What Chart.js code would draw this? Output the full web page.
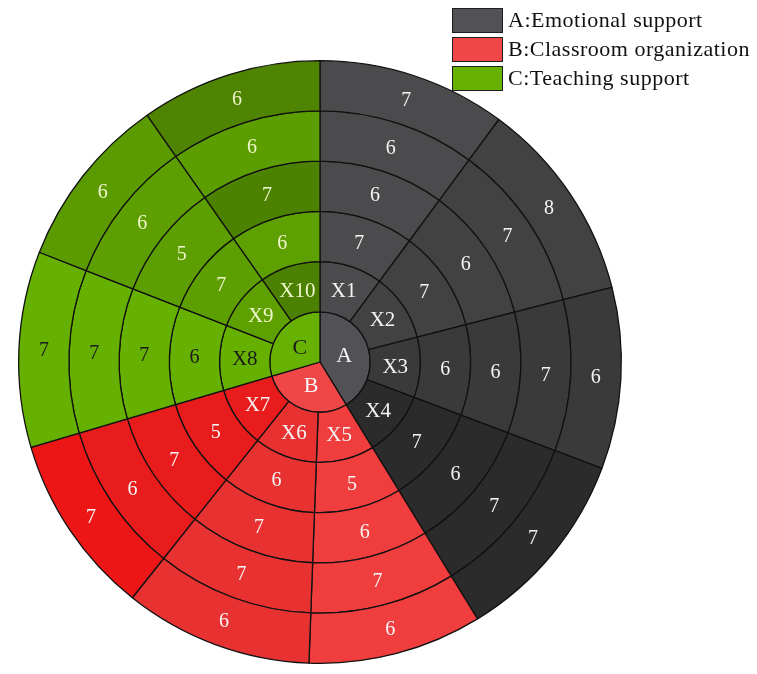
<!DOCTYPE html>
<html>
<head>
<meta charset="utf-8">
<title>Classroom interaction scores</title>
<script src="https://cdn.jsdelivr.net/npm/chart.js@4.4.0/dist/chart.umd.min.js"></script>
<style>
  html, body { margin: 0; padding: 0; background: #fff; }
  #wrap { width: 757px; height: 674px; }
</style>
</head>
<body>
<div id="wrap"><canvas id="sunburst" width="757" height="674"></canvas></div>
<script>
const groups = ['A', 'B', 'C'];
const groupNames = ['A:Emotional support', 'B:Classroom organization', 'C:Teaching support'];
const groupSize = [4, 3, 3];
const items = ['X1', 'X2', 'X3', 'X4', 'X5', 'X6', 'X7', 'X8', 'X9', 'X10'];

// scores per item, innermost ring first
const ring1 = [7, 7, 6, 7, 5, 6, 5, 6, 7, 6];
const ring2 = [6, 6, 6, 6, 6, 7, 7, 7, 5, 7];
const ring3 = [6, 7, 7, 7, 7, 7, 6, 7, 6, 6];
const ring4 = [7, 8, 6, 7, 6, 6, 7, 7, 6, 6];

// each item's share of the circle is the sum of its scores
const itemTotals = items.map((_, i) => ring1[i] + ring2[i] + ring3[i] + ring4[i]);
const groupTotals = [];
let k = 0;
groupSize.forEach(n => {
  let s = 0;
  for (let j = 0; j < n; j++) s += itemTotals[k++];
  groupTotals.push(s);
});

const groupColors = ['#525256', '#ef4747', '#67b103'];
const itemColors = ['#4b4b4d', '#424242', '#3a3a3a', '#2b2b2b', '#f03d3d', '#e83232', '#e81c1c', '#66b000', '#5ea000', '#4b8000'];
const ringColors = [
  ['#4b4b4d', '#424242', '#3a3a3a', '#2b2b2b', '#f03d3d', '#e83232', '#e81c1c', '#66b000', '#5d9f00', '#5ea000'],
  ['#4b4b4d', '#424242', '#3a3a3a', '#2b2b2b', '#f03d3d', '#e83232', '#e81c1c', '#66b000', '#5d9f00', '#4c8200'],
  ['#4b4b4d', '#424242', '#3a3a3a', '#2b2b2b', '#f03d3d', '#e83232', '#e81c1c', '#66b000', '#5d9f00', '#5c9d00'],
  ['#4b4b4d', '#424242', '#3a3a3a', '#2b2b2b', '#f03d3d', '#e83232', '#ec1616', '#66b000', '#5b9b00', '#4e8400']
];

const serif = "'Liberation Serif', 'Times New Roman', serif";

function itemTextColor(i) {
  if (i === 7) return '#1a1a1a';
  if (i > 7) return '#eef6cc';
  return '#f4f4f4';
}

function ringDataset(scores, colors) {
  return {
    data: itemTotals,
    backgroundColor: colors,
    cellText: scores.map(String),
    cellColors: items.map((_, i) => itemTextColor(i)),
    cellFont: '20px ' + serif
  };
}

// outermost ring first, Chart.js stacks datasets from the outside in
const datasets = [
  ringDataset(ring4, ringColors[3]),
  ringDataset(ring3, ringColors[2]),
  ringDataset(ring2, ringColors[1]),
  ringDataset(ring1, ringColors[0]),
  {
    data: itemTotals,
    backgroundColor: itemColors,
    cellText: items,
    cellColors: items.map((_, i) => itemTextColor(i)),
    cellFont: '21px ' + serif
  },
  {
    data: groupTotals,
    backgroundColor: groupColors,
    cellText: groups,
    cellColors: ['#f4f4f4', '#f4f4f4', '#1a1a1a'],
    cellFont: '22px ' + serif
  }
];

const cellLabels = {
  id: 'cellLabels',
  afterDatasetsDraw(chart) {
    const ctx = chart.ctx;
    chart.data.datasets.forEach((ds, di) => {
      chart.getDatasetMeta(di).data.forEach((arc, i) => {
        const p = arc.tooltipPosition();
        ctx.save();
        ctx.font = ds.cellFont;
        ctx.fillStyle = ds.cellColors[i];
        ctx.textAlign = 'center';
        ctx.textBaseline = 'middle';
        ctx.fillText(ds.cellText[i], p.x, p.y + 1);
        ctx.restore();
      });
    });
  }
};

const groupLegend = {
  id: 'groupLegend',
  afterDraw(chart) {
    const ctx = chart.ctx;
    const x = 452, y0 = 8, w = 51, h = 25, gap = 29;
    ctx.save();
    ctx.font = '22px ' + serif;
    ctx.letterSpacing = '0.5px';
    ctx.textBaseline = 'middle';
    groupNames.forEach((name, i) => {
      const y = y0 + i * gap;
      ctx.fillStyle = groupColors[i];
      ctx.fillRect(x, y, w, h);
      ctx.strokeStyle = '#1e1e1e';
      ctx.lineWidth = 1;
      ctx.strokeRect(x + 0.5, y + 0.5, w - 1, h - 1);
      ctx.fillStyle = '#111';
      ctx.fillText(name, x + w + 5, y + h / 2 + 1);
    });
    ctx.restore();
  }
};

new Chart(document.getElementById('sunburst'), {
  type: 'pie',
  data: { labels: items, datasets: datasets },
  options: {
    responsive: false,
    animation: false,
    events: [],
    borderColor: '#111',
    borderWidth: 1.3,
    hoverBorderWidth: 1.3,
    layout: { padding: { left: 18, top: 60, right: 135, bottom: 10 } },
    plugins: {
      legend: { display: false },
      tooltip: { enabled: false }
    }
  },
  plugins: [cellLabels, groupLegend]
});
</script>
</body>
</html>
